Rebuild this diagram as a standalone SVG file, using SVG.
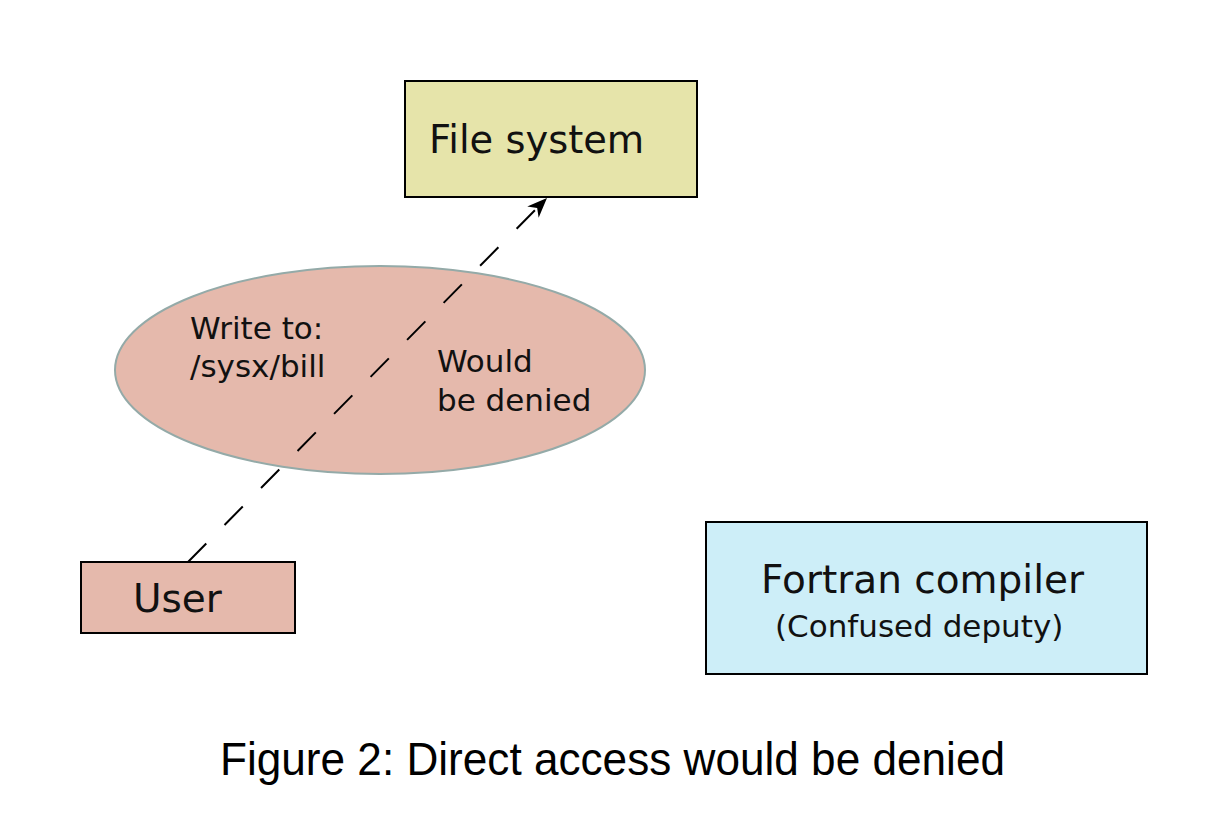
<svg xmlns="http://www.w3.org/2000/svg" width="1224" height="832" viewBox="0 0 1224 832">
<style>
.box{stroke:#000;stroke-width:2}
.t{font-family:"DejaVu Sans",sans-serif;fill:#111}
.conn{fill:none;stroke:#000;stroke-width:2;stroke-dasharray:26 26}
</style>
<defs>
<marker id="ah" viewBox="0 0 22 22" refX="20" refY="11" markerWidth="22" markerHeight="22" markerUnits="userSpaceOnUse" orient="auto">
<path d="M20,11 L0,3 L6,11 L0,19 Z" fill="#000"/>
</marker>
</defs>
<rect width="1224" height="832" fill="#fff"/>
<g id="filesystem">
<rect class="box" x="405" y="81" width="292" height="116" fill="#e6e4aa"/>
<text class="t" x="429" y="153" font-size="38.4">File system</text>
</g>
<g id="denied-ellipse">
<ellipse cx="380" cy="370" rx="265" ry="104" fill="#e5b9ac" stroke="#94aaa8" stroke-width="2"/>
<text class="t" font-size="31"><tspan x="190" y="339">Write to:</tspan><tspan x="190" y="377">/sysx/bill</tspan></text>
<text class="t" font-size="31"><tspan x="437" y="372">Would</tspan><tspan x="437" y="411">be denied</tspan></text>
</g>
<g id="user">
<rect class="box" x="81" y="562" width="214" height="71" fill="#e5b9ac"/>
<text class="t" x="133" y="612" font-size="39">User</text>
</g>
<g id="fortran">
<rect class="box" x="706" y="522" width="441" height="152" fill="#cdeef8"/>
<text class="t" x="761" y="593" font-size="39">Fortran compiler</text>
<text class="t" x="775" y="637" font-size="31">(Confused deputy)</text>
</g>
<g id="connectors">
<path class="conn" d="M188,562 L547,198" marker-end="url(#ah)"/>
</g>
<text x="220" y="775" font-family="Liberation Sans,sans-serif" font-size="46" textLength="785" lengthAdjust="spacingAndGlyphs" fill="#000">Figure 2: Direct access would be denied</text>
</svg>
